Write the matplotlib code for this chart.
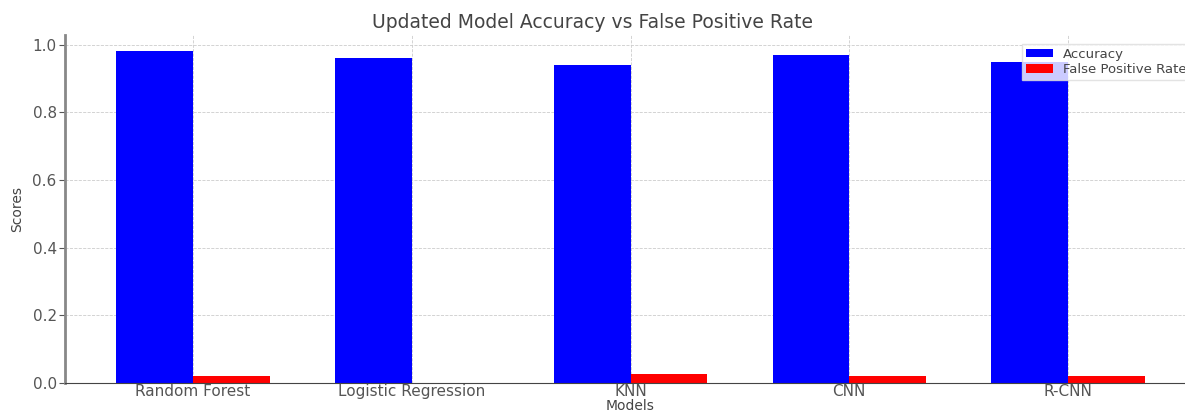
import numpy as np
import matplotlib
matplotlib.use("Agg")
import matplotlib.pyplot as plt

models = ["Random Forest", "Logistic Regression", "KNN", "CNN", "R-CNN"]
accuracy = [0.98, 0.96, 0.94, 0.97, 0.95]
fpr = [0.02, 0.0, 0.027, 0.02, 0.02]

x = np.arange(len(models))
width = 0.35

fig = plt.figure(figsize=(11.85, 4.12), dpi=100)
# the original picture is cropped on the right, so the axes run past the edge
ax = fig.add_axes([0.0549, 0.0704, 0.9544, 0.845])

ax.bar(x - width / 2, accuracy, width, label="Accuracy", color="blue")
ax.bar(x + width / 2, fpr, width, label="False Positive Rate", color="red")

ax.set_title("Updated Model Accuracy vs False Positive Rate", fontsize=13.5,
             color="#444444", x=0.466, pad=5)
ax.set_xlabel("Models", fontsize=10, color="#444444", labelpad=0)
ax.set_ylabel("Scores", fontsize=10, color="#444444", labelpad=6)
ax.set_xticks(x)
ax.set_xticklabels(models)
ax.set_yticks(np.arange(0, 1.01, 0.2))
ax.tick_params(axis="both", labelsize=11, colors="#555555")
ax.tick_params(axis="x", length=0, pad=1)
ax.tick_params(axis="y", color="#555555", length=4, pad=2)

ax.grid(True, linestyle="--", color="#cccccc", linewidth=0.6)
ax.set_axisbelow(True)
for s in ["top", "right"]:
    ax.spines[s].set_visible(False)
ax.spines["left"].set_color("#888888")
ax.spines["left"].set_linewidth(2)
ax.spines["bottom"].set_color("#444444")

leg = ax.legend(loc="upper right", fontsize=9.5, framealpha=0.8, edgecolor="#dddddd",
                fancybox=False, borderaxespad=0.4, labelspacing=0.2,
                handleheight=0.6, borderpad=0.3, bbox_to_anchor=(1.0, 0.99))
for t in leg.get_texts():
    t.set_color("#444444")

fig.savefig("out.png", dpi=100)
